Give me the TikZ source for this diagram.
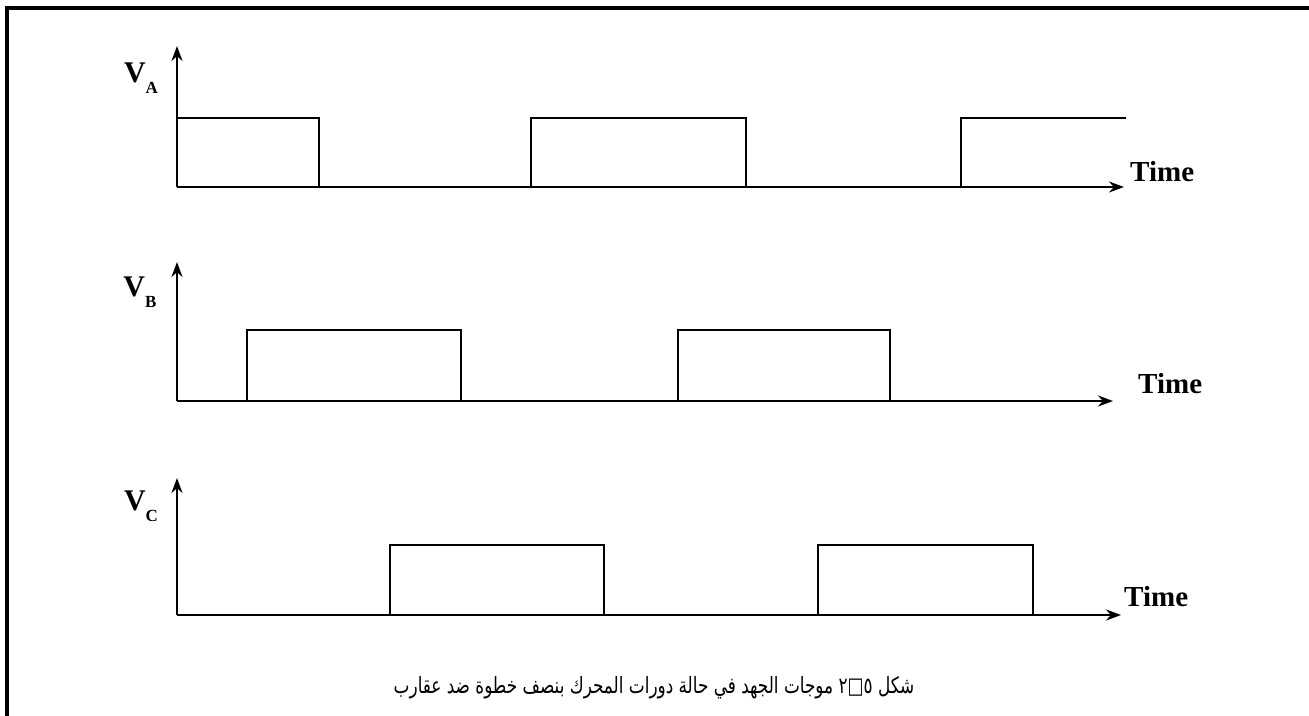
\documentclass[tikz,border=0pt]{standalone}
\usepackage{fontspec}
\setmainfont{Liberation Serif}
\newfontfamily\arabicfont[Script=Arabic,FakeStretch=0.75]{DejaVu Sans}
\TeXXeTstate=1
\usetikzlibrary{arrows.meta}
\tikzset{
  axis/.style={line width=2pt,-{Stealth[length=15pt,width=11pt]}},
  sig/.style={line width=2.8pt,line join=miter},
  frame/.style={line width=3.2pt},
  vlabel/.style={inner sep=0pt,font=\fontsize{30}{30}\selectfont\bfseries},
  tlabel/.style={inner sep=0pt,anchor=west,font=\fontsize{29}{29}\selectfont\bfseries},
}
\newcommand{\vlab}[1]{V\raisebox{-11pt}{\fontsize{17}{17}\selectfont #1}}
\begin{document}
\begin{tikzpicture}[x=1pt,y=-1pt]
\useasboundingbox (0,0) rectangle (1309,715);
% frame
\coordinate (fbl) at (7,717);
\coordinate (ftl) at (7,8);
\coordinate (ftr) at (1311,8);
\draw[frame] (fbl) -- (ftl) -- (ftr);

% ---- V_A ----
\coordinate (oA) at (177,187);
\coordinate (yA) at (177,46);
\coordinate (xA) at (1124,187);
\draw[axis] (oA) -- (yA);
\draw[axis] (oA) -- (xA);
\draw[sig] (177,118) -- (319,118) -- (319,187);
\draw[sig] (531,187) -- (531,118) -- (746,118) -- (746,187);
\draw[sig] (961,187) -- (961,118) -- (1126,118);
\node[vlabel] (lA) at (141,78) {\vlab{A}};
\node[tlabel] (tA) at (1130,172) {Time};

% ---- V_B ----
\coordinate (oB) at (177,401);
\coordinate (yB) at (177,262);
\coordinate (xB) at (1113,401);
\draw[axis] (oB) -- (yB);
\draw[axis] (oB) -- (xB);
\draw[sig] (247,401) -- (247,330) -- (461,330) -- (461,401);
\draw[sig] (678,401) -- (678,330) -- (890,330) -- (890,401);
\node[vlabel] (lB) at (140,292) {\vlab{B}};
\node[tlabel] (tB) at (1138,384) {Time};

% ---- V_C ----
\coordinate (oC) at (177,615);
\coordinate (yC) at (177,478);
\coordinate (xC) at (1121,615);
\draw[axis] (oC) -- (yC);
\draw[axis] (oC) -- (xC);
\draw[sig] (390,615) -- (390,545) -- (604,545) -- (604,615);
\draw[sig] (818,615) -- (818,545) -- (1033,545) -- (1033,615);
\node[vlabel] (lC) at (141,506) {\vlab{C}};
\node[tlabel] (tC) at (1124,597) {Time};

% caption
\node[inner sep=0pt] (cap) at (654,688) {\arabicfont\fontsize{22.5}{22.5}\selectfont\beginR شكل ٥□٢ موجات الجهد في حالة دورات المحرك بنصف خطوة ضد عقارب\endR};
\end{tikzpicture}
\end{document}
